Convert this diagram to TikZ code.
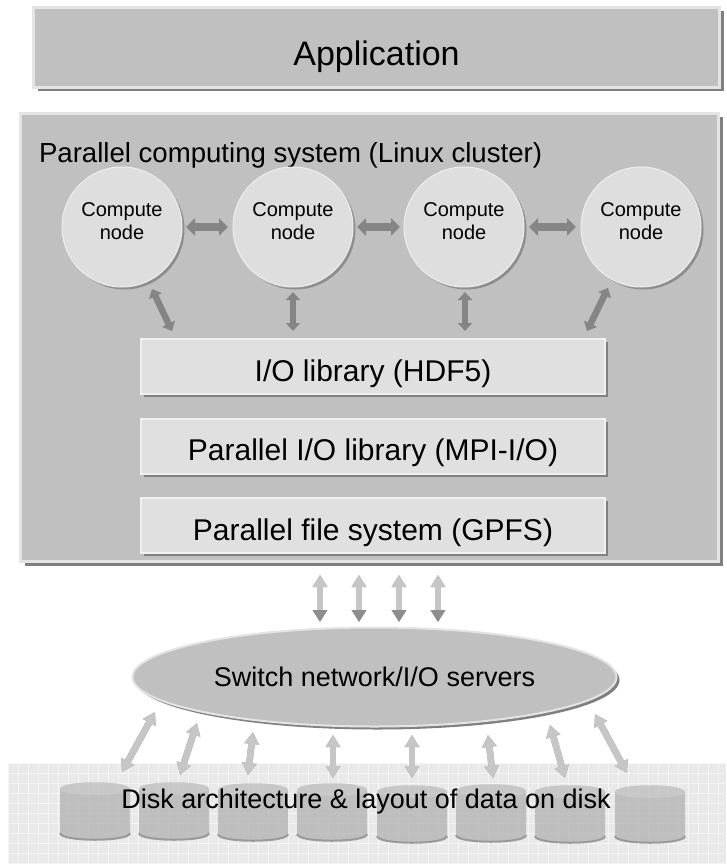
\documentclass[tikz,border=0pt]{standalone}
\usepackage{fontspec}
\setmainfont{Liberation Sans}
\usetikzlibrary{arrows.meta,shapes.geometric,shadows}
\definecolor{boxgray}{HTML}{C0C0C0}
\definecolor{rimgray}{HTML}{E4E4E4}
\definecolor{shadowgray}{HTML}{808080}
\definecolor{libfill}{HTML}{E0E0E0}
\definecolor{librim}{HTML}{F0F0F0}
\definecolor{nodefill}{HTML}{DEDEDE}
\definecolor{noderim}{HTML}{EEEEEE}
\definecolor{arrdark}{HTML}{858585}
\definecolor{arrlight}{HTML}{C6C6C6}
\definecolor{arrshade}{HTML}{8E8E8E}
\definecolor{diskbg}{HTML}{E9E9E9}
\definecolor{gridcol}{HTML}{F5F5F5}
\definecolor{diskbody}{HTML}{B4B4B4}
\definecolor{diskrim}{HTML}{8C8C8C}
\begin{document}
\begin{tikzpicture}[x=1pt,y=-1pt,
  every node/.style={inner sep=0pt,outer sep=0pt},
  raised/.style={fill=boxgray,draw=rimgray,line width=3pt,
    drop shadow={shadow xshift=4pt,shadow yshift=-4pt,fill=shadowgray,opacity=1}},
  libbox/.style={fill=libfill,draw=librim,line width=2pt,minimum width=464pt,minimum height=55pt,
    drop shadow={shadow xshift=3pt,shadow yshift=-3pt,fill=shadowgray,opacity=1},
    text height=29pt,text depth=0pt,
    font=\fontsize{30}{34}\selectfont},
  cnode/.style={circle,minimum size=120pt,fill=nodefill,draw=noderim,line width=1pt,
    drop shadow={shadow xshift=2.5pt,shadow yshift=-2.5pt,fill=arrshade,opacity=1}},
  ctext/.style={align=center,font=\fontsize{20}{23}\selectfont},
  harrow/.style={draw=arrdark,line width=7.5pt,
    {Triangle[length=9pt,width=17pt]}-{Triangle[length=9pt,width=17pt]}},
  darrow/.style={draw=arrdark,line width=6.5pt,
    {Triangle[length=8pt,width=14pt]}-{Triangle[length=8pt,width=14pt]}},
  larrow/.style={draw=arrlight,line width=6.5pt,
    {Triangle[length=12pt,width=14pt]}-{Triangle[length=12pt,width=14pt]}},
  larrowdk/.style={draw=arrlight,line width=6.5pt,
    {Triangle[length=12pt,width=14pt]}-{Triangle[length=12pt,width=14pt,color=arrshade]}},
  lshadow/.style={draw=arrshade,line width=6.5pt,shift={(1.3,1.3)},
    {Triangle[length=12pt,width=14pt]}-{Triangle[length=12pt,width=14pt]}}
]
\useasboundingbox (0,0) rectangle (726,864);
\fill[white] (0,0) rectangle (726,864);

% Application
\node[raised,minimum width=686pt,minimum height=80pt,text height=37pt,text depth=0pt,
  font=\fontsize{34}{40}\selectfont] (app) at (376.5,47.5) {Application};

% Parallel computing system
\node[raised,minimum width=698pt,minimum height=448pt] (sys) at (369.5,337.5) {};
\node[anchor=base west,font=\fontsize{27.6}{32}\selectfont] (title) at (39,162) {Parallel computing system (Linux cluster)};

% compute nodes
\foreach \i/\x in {1/122,2/293,3/464,4/641}{
  \node[cnode] (c\i) at (\x,227) {};
  \node[ctext] (t\i) at (\x,221.3) {Compute\\node};
}
\draw[harrow,shorten <=4pt,shorten >=5pt] (c1) -- (c2);
\draw[harrow,shorten <=4pt,shorten >=4pt] (c2) -- (c3);
\draw[harrow,shorten <=5pt,shorten >=5pt] (c3) -- (c4);

% libraries
\node[libbox] (hdf) at (373,366.5) {I/O library (HDF5)};
\node[libbox] (mpi) at (373,446) {Parallel I/O library (MPI-I/O)};
\node[libbox] (gpfs) at (373,525.5) {Parallel file system (GPFS)};

% node <-> library arrows
\coordinate (a1s) at (152,289); \coordinate (a1e) at (172,331);
\coordinate (a2s) at (293,292); \coordinate (a2e) at (293,331);
\coordinate (a3s) at (465,292); \coordinate (a3e) at (465,331);
\coordinate (a4s) at (608,288); \coordinate (a4e) at (587,331);
\foreach \i in {1,2,3,4}{ \draw[darrow] (a\i s) -- (a\i e); }

% switch network
\node[ellipse,fill=boxgray,draw=rimgray,line width=2pt,minimum width=484pt,minimum height=99pt,
  drop shadow={shadow xshift=3pt,shadow yshift=-3pt,fill=shadowgray,opacity=1},
  text height=18pt,text depth=0pt,
  font=\fontsize{27}{30}\selectfont] (sw) at (374.5,677) {Switch network/I/O servers};

\foreach \i/\x in {1/320,2/359,3/399,4/438}{
  \coordinate (us\i) at (\x,575); \coordinate (ue\i) at (\x,622);
  \draw[lshadow] (us\i) -- (ue\i);
  \draw[larrowdk] (us\i) -- (ue\i);
}

% disk area
\fill[diskbg] (8,763) rectangle (726,864);
\foreach \gx in {8,18,...,726}{ \draw[gridcol,line width=1pt] (\gx,763) -- (\gx,864); }
\foreach \gy in {763,773,...,863}{ \draw[gridcol,line width=1pt] (8,\gy) -- (726,\gy); }

\foreach \xl/\tp in {60/782,139/782,218/783,297/783,377/785,456/784,535/785,615/785}{
  \pgfmathsetmacro\xr{\xl+70}
  \pgfmathsetmacro\bt{\tp+58}
  \fill[diskbody,opacity=0.8] (\xl,\tp+7) .. controls (\xl,\tp-2) and (\xr,\tp-2) .. (\xr,\tp+7)
     -- (\xr,\bt-7) .. controls (\xr,\bt+2) and (\xl,\bt+2) .. (\xl,\bt-7) -- cycle;
  \fill[white,opacity=0.15] (\xl,\tp+7) .. controls (\xl,\tp-2) and (\xr,\tp-2) .. (\xr,\tp+7)
     .. controls (\xr,\tp+15) and (\xl,\tp+15) .. (\xl,\tp+7) -- cycle;
  \draw[diskrim,line width=2pt,opacity=0.8] (\xr,\bt-7) .. controls (\xr,\bt+2) and (\xl,\bt+2) .. (\xl,\bt-7);
}
\node[anchor=base,font=\fontsize{27}{32}\selectfont] (disktxt) at (366,808) {Disk architecture \& layout of data on disk};

% switch <-> disk arrows
\coordinate (ds1) at (155,712); \coordinate (de1) at (122,772);
\coordinate (ds2) at (197,723); \coordinate (de2) at (180,775);
\coordinate (ds3) at (253,732); \coordinate (de3) at (248,775);
\coordinate (ds4) at (333,735); \coordinate (de4) at (333,778);
\coordinate (ds5) at (412,735); \coordinate (de5) at (412,778);
\coordinate (ds6) at (488,735); \coordinate (de6) at (493,778);
\coordinate (ds7) at (550,725); \coordinate (de7) at (565,778);
\coordinate (ds8) at (595,714); \coordinate (de8) at (627,773);
\foreach \i in {1,...,8}{
  \draw[lshadow] (ds\i) -- (de\i);
  \draw[larrow] (ds\i) -- (de\i);
}
\end{tikzpicture}
\end{document}
